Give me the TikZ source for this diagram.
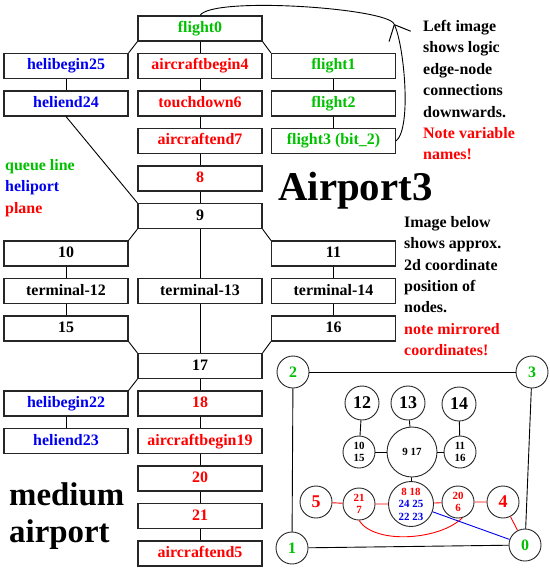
\documentclass[tikz,border=0pt]{standalone}
\usepackage{fontspec}
\setmainfont{Liberation Serif}
\usetikzlibrary{arrows.meta}
\definecolor{queue}{HTML}{00C000}
\definecolor{heli}{HTML}{0000F0}
\definecolor{plane}{HTML}{FF0000}

\tikzset{
  box/.style={draw=black!85, line width=1.1bp, minimum width=124bp, minimum height=25bp,
    inner sep=0pt, text height=11bp, text depth=3bp,
    font=\fontsize{16}{19}\selectfont\bfseries},
  link/.style={line width=0.9bp},
  spot/.style={draw=black!85, circle, line width=0.9bp, inner sep=0pt, minimum size=32bp,
    font=\fontsize{16}{19}\selectfont\bfseries},
  tiny/.style={font=\fontsize{11}{12.5}\selectfont\bfseries, align=center},
  note/.style={anchor=north west, inner sep=0pt, align=left,
    font=\fontsize{16}{21.5}\selectfont\bfseries},
  barb/.style={-{Straight Barb[length=13bp,width=24bp,line width=1bp]}},
}

\begin{document}
\begin{tikzpicture}[x=1bp,y=-1bp]
  \useasboundingbox (0,0) rectangle (550,568);

  % Logic graph: middle column
  \node[box,text=queue] (f0) at (200,28.5) {flight0};
  \node[box,text=plane] (ab4) at (200,66) {aircraftbegin4};
  \node[box,text=plane] (td6) at (200,103.5) {touchdown6};
  \node[box,text=plane] (ae7) at (200,141) {aircraftend7};
  \node[box,text=plane] (n8) at (200,178.5) {8};
  \node[box] (n9) at (200,216) {9};
  \node[box] (t13) at (200,291) {terminal-13};
  \node[box] (n17) at (200,366) {17};
  \node[box,text=plane] (n18) at (200,403.5) {18};
  \node[box,text=plane] (ab19) at (200,441) {aircraftbegin19};
  \node[box,text=plane] (n20) at (200,478.5) {20};
  \node[box,text=plane] (n21) at (200,516) {21};
  \node[box,text=plane] (ae5) at (200,553.5) {aircraftend5};

  % Logic graph: left column
  \node[box,text=heli] (hb25) at (66,66) {helibegin25};
  \node[box,text=heli] (he24) at (66,103.5) {heliend24};
  \node[box] (n10) at (66,253.5) {10};
  \node[box] (t12) at (66,291) {terminal-12};
  \node[box] (n15) at (66,328.5) {15};
  \node[box,text=heli] (hb22) at (66,403.5) {helibegin22};
  \node[box,text=heli] (he23) at (66,441) {heliend23};

  % Logic graph: right column
  \node[box,text=queue] (f1) at (333.5,66) {flight1};
  \node[box,text=queue] (f2) at (333.5,103.5) {flight2};
  \node[box,text=queue] (f3) at (333.5,141) {flight3 (bit\_2)};
  \node[box] (n11) at (333.5,253.5) {11};
  \node[box] (t14) at (333.5,291) {terminal-14};
  \node[box] (n16) at (333.5,328.5) {16};

  % Edges
  \draw[link] (f0) -- (ab4) -- (td6) -- (ae7) -- (n8) -- (n9) -- (t13) -- (n17)
    -- (n18) -- (ab19) -- (n20) -- (n21) -- (ae5);
  \draw[link] (hb25) -- (he24);
  \draw[link] (f1) -- (f2) -- (f3);
  \draw[link] (n10) -- (t12) -- (n15);
  \draw[link] (n11) -- (t14) -- (n16);
  \draw[link] (hb22) -- (he23);
  \draw[link] (f0.south west) -- (hb25.north east);
  \draw[link] (f0.south east) -- (f1.north west);
  \draw[link] (he24.south) -- (n9.north west);
  \draw[link] (n9.south west) -- (n10.north east);
  \draw[link] (n9.south east) -- (n11.north west);
  \draw[link] (n15.south east) -- (n17.north west);
  \draw[link] (n16.south west) -- (n17.north east);
  \draw[link] (n17.south west) -- (hb22.north east);

  % Loop back from flight3 to flight0
  \coordinate (turn) at (394,24);
  \draw[link,barb] (f3.east) .. controls (412,128) and (404,45) .. (turn);
  \draw[link] (turn) .. controls (388,8) and (212,-4) .. (f0.north);

  % Texts
  \node[note] (leftnote) at (423,20) {Left image\\shows logic\\edge-node\\connections\\downwards.\\\textcolor{plane}{Note variable}\\\textcolor{plane}{names!}};
  \node[note] (imgnote) at (404,216) {Image below\\shows approx.\\2d coordinate\\position of\\nodes.\\\textcolor{plane}{note mirrored}\\\textcolor{plane}{coordinates!}};
  \node[note] (legend) at (5,159) {\textcolor{queue}{queue line}\\\textcolor{heli}{heliport}\\\textcolor{plane}{plane}};
  \node[anchor=base west, inner sep=0pt, font=\fontsize{41}{41}\selectfont\bfseries] (title) at (278,200) {Airport3};
  \node[note, font=\fontsize{33}{38}\selectfont\bfseries] (kind) at (9,482) {medium\\airport};

  % 2d layout: outer corners
  \node[spot,text=queue] (c2) at (293,372) {2};
  \node[spot,text=queue] (c3) at (532,372) {3};
  \node[spot,text=queue] (c1) at (292,548) {1};
  \node[spot,text=queue] (c0) at (525,545) {0};

  % 2d layout: terminals
  \node[spot,minimum size=34bp,font=\fontsize{18}{20}\selectfont\bfseries] (c12) at (362,403) {12};
  \node[spot,minimum size=34bp,font=\fontsize{18}{20}\selectfont\bfseries] (c13) at (408,403) {13};
  \node[spot,minimum size=34bp,font=\fontsize{18}{20}\selectfont\bfseries] (c14) at (459,404) {14};
  \node[spot,tiny] (c1015) at (359,452) {10\\15};
  \node[spot,tiny,minimum size=50bp] (c917) at (412,452) {9 17};
  \node[spot,tiny] (c1116) at (460,452) {11\\16};

  % 2d layout: runway row
  \node[spot,text=plane,font=\fontsize{18}{20}\selectfont\bfseries] (c5) at (316,502) {5};
  \node[spot,tiny,text=plane] (c217) at (359,504) {21\\7};
  \node[spot,tiny,minimum size=45bp] (c8) at (411,504) {\textcolor{plane}{8 18}\\\textcolor{heli}{24 25}\\\textcolor{heli}{22 23}};
  \node[spot,tiny,text=plane] (c206) at (458,502) {20\\6};
  \node[spot,text=plane,font=\fontsize{18}{20}\selectfont\bfseries] (c4) at (503,502) {4};

  % 2d layout: edges
  \draw[link] (c2) -- (c3);
  \draw[link] (c2) -- (c1);
  \draw[link] (c1) -- (c0);
  \draw[link] (c3) -- (c0);
  \draw[link] (c12) -- (c1015);
  \draw[link] (c13) -- (c917);
  \draw[link] (c14) -- (c1116);
  \draw[link] (c1015) -- (c917) -- (c1116);
  \draw[link] (c917) -- (c8);
  \draw[link,plane] (c5) -- (c217) -- (c8) -- (c206) -- (c4) -- (c0);
  \draw[link,plane] (c217.south) .. controls (375,545) and (440,540) .. (c206.-75);
  \draw[link,heli] (c8) -- (c0);
\end{tikzpicture}
\end{document}
